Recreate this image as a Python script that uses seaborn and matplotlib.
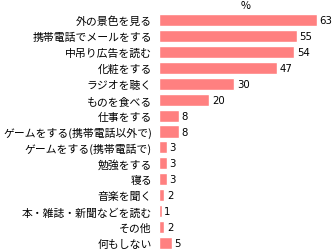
import matplotlib
matplotlib.use("Agg")
import matplotlib.pyplot as plt
import seaborn as sns
import pandas as pd

categories = ["外の景色を見る", "携帯電話でメールをする", "中吊り広告を読む", "化粧をする",
              "ラジオを聴く", "ものを食べる", "仕事をする", "ゲームをする(携帯電話以外で)",
              "ゲームをする(携帯電話で)", "勉強をする", "寝る", "音楽を聞く",
              "本・雑誌・新聞などを読む", "その他", "何もしない"]
values = [63, 55, 54, 47, 30, 20, 8, 8, 3, 3, 3, 2, 1, 2, 5]
unit_label = "%"

sns.set_theme(style="white")
plt.rcParams['font.family'] = ['Noto Sans CJK JP', 'DejaVu Sans']

df = pd.DataFrame({"cat": categories, "val": values})

fig = plt.figure(figsize=(3.32, 2.51), dpi=100)
ax = fig.add_axes([159/332, -1/251, 1 - 159/332, 239/251])
sns.barplot(data=df, x="val", y="cat", orient="h", color="#FF8080",
            saturation=1, width=0.76, ax=ax)
ax.set_xlim(0, 69.1)
ax.set_ylim(len(categories) - 0.5, -0.5)
for s in ax.spines.values():
    s.set_visible(False)
ax.set_xticks([])
ax.set_xlabel("")
ax.set_ylabel("")
ax.tick_params(axis="y", length=0, pad=5, labelsize=7.8, colors="black")
for i, v in enumerate(values):
    ax.annotate(str(v), (v, i), xytext=(2, 0), textcoords="offset points",
                va="center", ha="left", fontsize=7.3, color="black",
                family=['DejaVu Sans'])
fig.text(246/332, 1 - 6/251, unit_label, ha="center", va="center", fontsize=7.8,
         color="black")
fig.savefig("out.png", dpi=100)
